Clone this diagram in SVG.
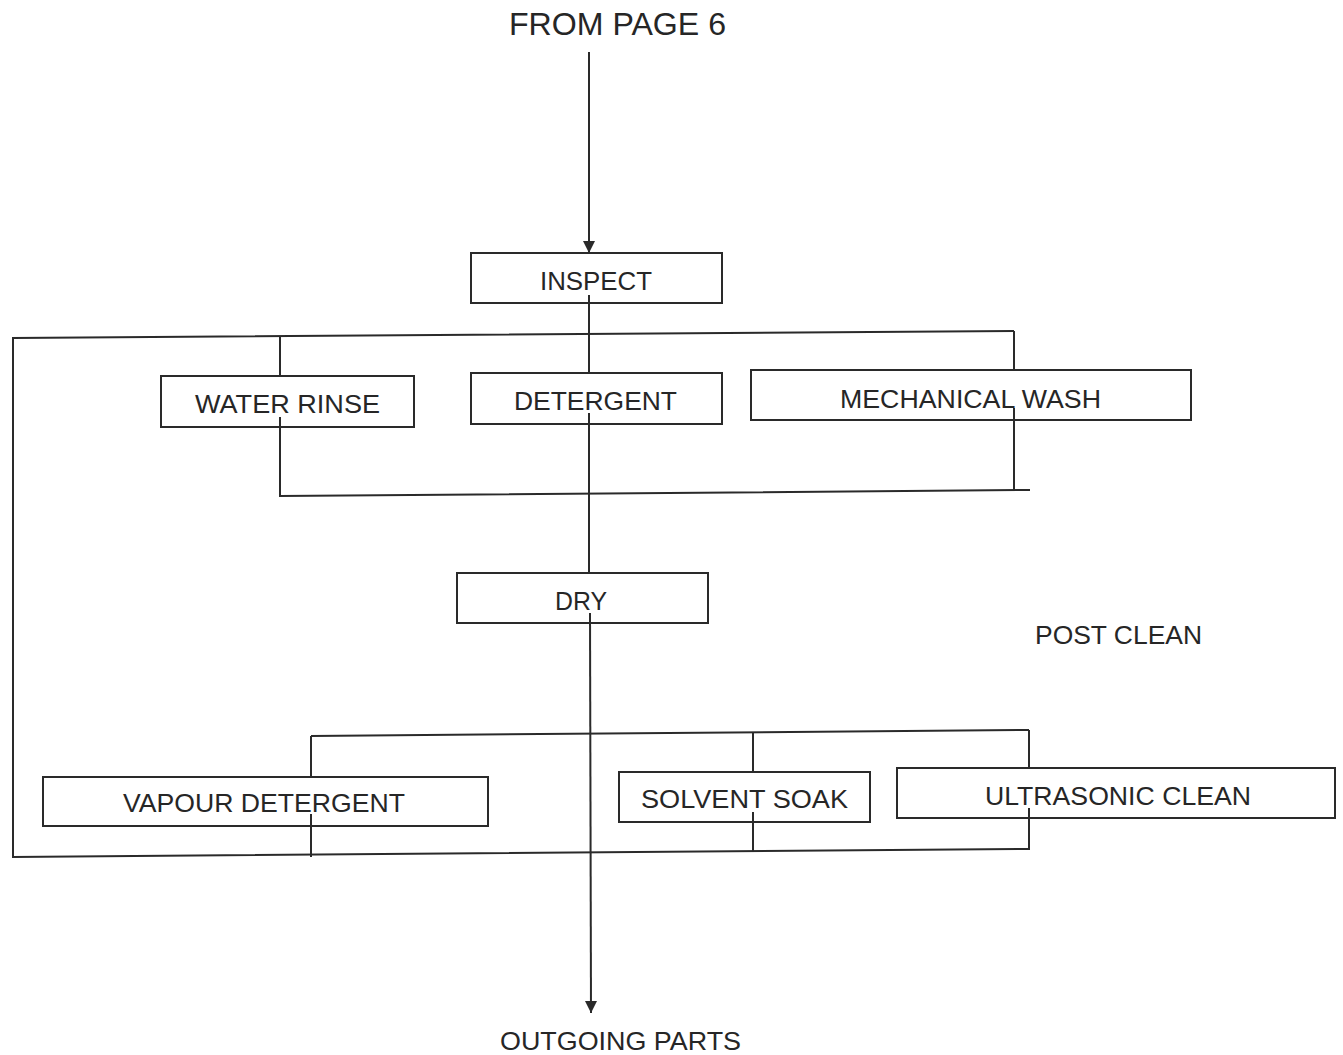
<svg xmlns="http://www.w3.org/2000/svg" width="1343" height="1055" viewBox="0 0 1343 1055">
<style>
.box{fill:#fff;stroke:#2a2a2a;stroke-width:2}
.lbl{font-family:"Liberation Sans",Arial,Helvetica,sans-serif;font-size:26px;fill:#262626;text-anchor:middle}
.ttl{font-size:30.5px}
.ln{fill:none;stroke:#2a2a2a;stroke-width:2}
</style>
<defs>
<marker id="ah" viewBox="0 0 10 10" refX="10" refY="5" markerWidth="15" markerHeight="12" markerUnits="userSpaceOnUse" orient="auto">
<path d="M0,0 L10,5 L0,10 z" fill="#2a2a2a"/>
</marker>
</defs>
<rect width="1343" height="1055" fill="#fff"/>
<g id="from-page-6"><text class="lbl ttl" x="617.5" y="35" textLength="217" lengthAdjust="spacingAndGlyphs">FROM PAGE 6</text></g>
<g id="inspect"><rect class="box" x="471" y="253" width="251" height="50"/><text class="lbl" x="596" y="290" textLength="112" lengthAdjust="spacingAndGlyphs">INSPECT</text></g>
<g id="water-rinse"><rect class="box" x="161" y="376" width="253" height="51"/><text class="lbl" x="287.5" y="413" textLength="185" lengthAdjust="spacingAndGlyphs">WATER RINSE</text></g>
<g id="detergent"><rect class="box" x="471" y="373" width="251" height="51"/><text class="lbl" x="595.5" y="410" textLength="163" lengthAdjust="spacingAndGlyphs">DETERGENT</text></g>
<g id="mechanical-wash"><rect class="box" x="751" y="370" width="440" height="50"/><text class="lbl" x="970.5" y="408" textLength="261" lengthAdjust="spacingAndGlyphs">MECHANICAL WASH</text></g>
<g id="dry"><rect class="box" x="457" y="573" width="251" height="50"/><text class="lbl" x="581" y="610" textLength="52" lengthAdjust="spacingAndGlyphs">DRY</text></g>
<g id="post-clean"><text class="lbl" x="1118.5" y="644" textLength="167" lengthAdjust="spacingAndGlyphs">POST CLEAN</text></g>
<g id="vapour-detergent"><rect class="box" x="43" y="777" width="445" height="49"/><text class="lbl" x="264" y="812" textLength="282" lengthAdjust="spacingAndGlyphs">VAPOUR DETERGENT</text></g>
<g id="solvent-soak"><rect class="box" x="619" y="772" width="251" height="50"/><text class="lbl" x="744.5" y="808" textLength="207" lengthAdjust="spacingAndGlyphs">SOLVENT SOAK</text></g>
<g id="ultrasonic-clean"><rect class="box" x="897" y="768" width="438" height="50"/><text class="lbl" x="1118" y="805" textLength="266" lengthAdjust="spacingAndGlyphs">ULTRASONIC CLEAN</text></g>
<g id="outgoing-parts"><text class="lbl" x="620.5" y="1050" textLength="241" lengthAdjust="spacingAndGlyphs">OUTGOING PARTS</text></g>
<g id="connectors">
<line class="ln" x1="589" y1="52" x2="589" y2="253" marker-end="url(#ah)"/>
<line class="ln" x1="589" y1="295" x2="589" y2="373"/>
<polyline class="ln" points="1014,331 13,338 13,857 1030,849"/>
<line class="ln" x1="280" y1="337" x2="280" y2="376"/>
<polyline class="ln" points="280,417 280,496 1030,490"/>
<line class="ln" x1="1014" y1="331" x2="1014" y2="370"/>
<line class="ln" x1="1014" y1="408" x2="1014" y2="490"/>
<line class="ln" x1="589" y1="413" x2="589" y2="573"/>
<line class="ln" x1="590" y1="613" x2="591" y2="1013" marker-end="url(#ah)"/>
<line class="ln" x1="311" y1="736" x2="1029" y2="730"/>
<line class="ln" x1="311" y1="736" x2="311" y2="777"/>
<line class="ln" x1="311" y1="814" x2="311" y2="857"/>
<line class="ln" x1="753" y1="733" x2="753" y2="772"/>
<line class="ln" x1="753" y1="812" x2="753" y2="852"/>
<line class="ln" x1="1029" y1="730" x2="1029" y2="768"/>
<line class="ln" x1="1029" y1="808" x2="1029" y2="849"/>
</g>
</svg>
